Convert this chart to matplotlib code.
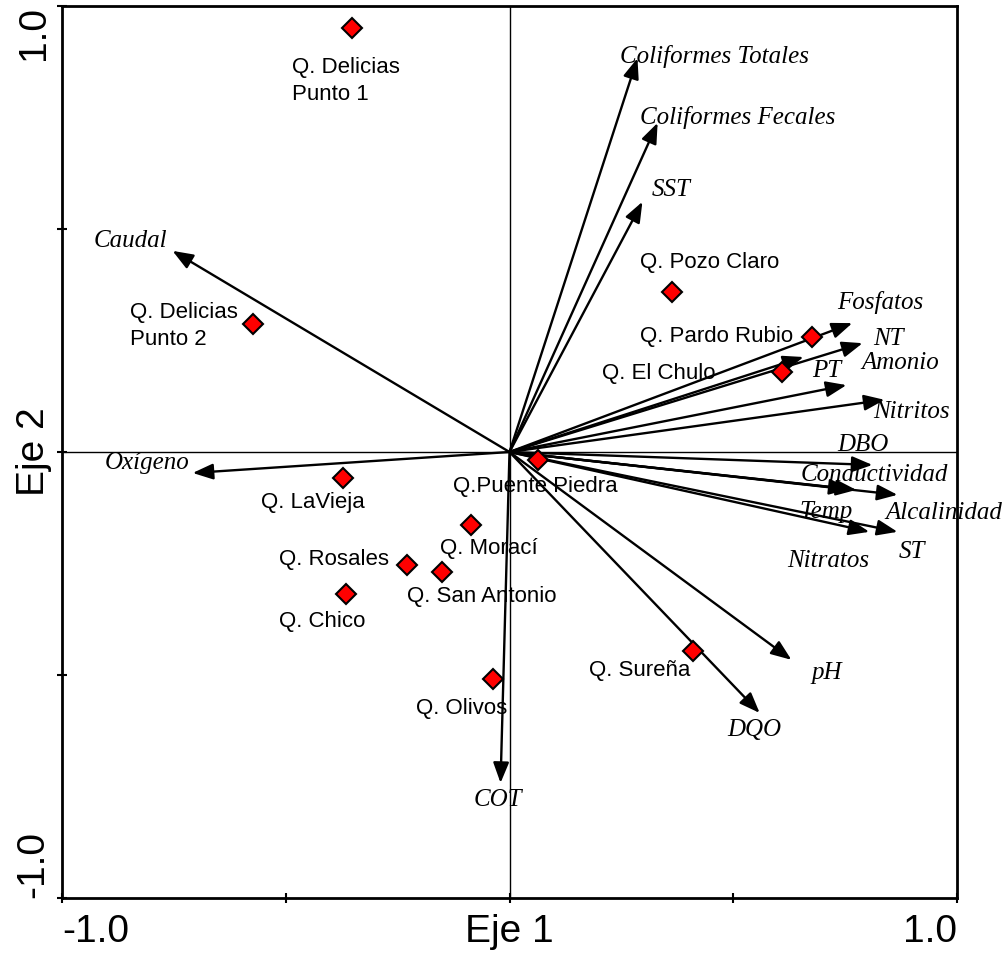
import numpy as np
import matplotlib.pyplot as plt

# Muestras (quebradas) y sus coordenadas en los ejes 1 y 2
muestras = ["Q. Delicias\nPunto 1", "Q. Delicias\nPunto 2", "Q. Pozo Claro", "Q. Pardo Rubio",
            "Q. El Chulo", "Q.Puente Piedra", "Q. LaVieja", "Q. Morací", "Q. Rosales",
            "Q. San Antonio", "Q. Chico", "Q. Sureña", "Q. Olivos"]
eje1_muestras = [-0.353, -0.574, 0.364, 0.677, 0.610, 0.063, -0.371, -0.085, -0.228,
                 -0.150, -0.366, 0.409, -0.036]
eje2_muestras = [0.951, 0.287, 0.359, 0.258, 0.179, -0.018, -0.058, -0.164, -0.253,
                 -0.269, -0.318, -0.446, -0.509]

# Variables (vectores)
variables = ["Coliformes Totales", "Coliformes Fecales", "SST", "Caudal", "Fosfatos", "NT",
             "Amonio", "PT", "Nitritos", "DBO", "Conductividad", "Temp", "Alcalinidad",
             "Nitratos", "ST", "Oxígeno", "pH", "DQO", "COT"]
eje1_vars = [0.286, 0.331, 0.297, -0.753, 0.766, 0.789, 0.657, 0.753, 0.838, 0.811, 0.775,
             0.760, 0.867, 0.804, 0.867, -0.708, 0.630, 0.559, -0.020]
eje2_vars = [0.883, 0.738, 0.561, 0.451, 0.289, 0.244, 0.213, 0.150, 0.117, -0.029, -0.085,
             -0.083, -0.096, -0.179, -0.179, -0.047, -0.466, -0.585, -0.742]

# posiciones de las etiquetas (borde izquierdo, centro vertical)
pos_etq_muestras = [(-0.487, 0.832), (-0.847, 0.283), (0.291, 0.424), (0.291, 0.258),
                    (0.206, 0.175), (-0.127, -0.078), (-0.556, -0.114), (-0.156, -0.217),
                    (-0.514, -0.242), (-0.228, -0.325), (-0.514, -0.379), (0.177, -0.491),
                    (-0.210, -0.576)]
pos_etq_vars = [(0.248, 0.886), (0.291, 0.749), (0.317, 0.587), (-0.930, 0.473),
                (0.733, 0.336), (0.813, 0.253), (0.787, 0.200), (0.677, 0.182),
                (0.813, 0.090), (0.733, 0.016), (0.650, -0.052), (0.648, -0.135),
                (0.840, -0.137), (0.621, -0.244), (0.869, -0.224), (-0.905, -0.025),
                (0.675, -0.496), (0.487, -0.623), (-0.080, -0.780)]

fig = plt.figure(figsize=(10.08, 9.58), dpi=100)
ax = fig.add_axes([62 / 1008, 60 / 958, 895 / 1008, 892 / 958])
ax.set_xlim(-1, 1)
ax.set_ylim(-1, 1)

ax.axhline(0, color="black", lw=1, zorder=1)
ax.axvline(0, color="black", lw=1, zorder=1)

# vectores de las variables
for i, nombre in enumerate(variables):
    ax.annotate("", xy=(eje1_vars[i], eje2_vars[i]), xytext=(0, 0),
                arrowprops=dict(arrowstyle="-|>,head_length=0.62,head_width=0.24",
                                mutation_scale=20, color="black", lw=1.7,
                                shrinkA=0, shrinkB=0), zorder=3)
    ax.text(pos_etq_vars[i][0], pos_etq_vars[i][1], nombre, family="Liberation Serif",
            style="italic", fontsize=18, ha="left", va="center", zorder=2)

# muestras
ax.plot(eje1_muestras, eje2_muestras, "D", color="red", markeredgecolor="black",
        markeredgewidth=1.5, markersize=10.5, linestyle="none", zorder=4)
for i, nombre in enumerate(muestras):
    ax.text(pos_etq_muestras[i][0], pos_etq_muestras[i][1], nombre, family="Liberation Sans",
            fontsize=16, ha="left", va="center", linespacing=1.4, zorder=2)

# ejes
for s in ax.spines.values():
    s.set_linewidth(2)
ticks = [-1, -0.5, 0, 0.5, 1]
ax.set_xticks(ticks)
ax.set_xticklabels(["-1.0", "", "Eje 1", "", "1.0"], family="Liberation Sans", fontsize=28)
ax.set_yticks(ticks)
ax.set_yticklabels(["-1.0", "", "Eje 2", "", "1.0"], family="Liberation Sans", fontsize=28,
                   rotation=90)
ax.tick_params(axis="both", direction="inout", length=7, width=1.5, color="black")
ax.tick_params(axis="x", pad=8)
ax.tick_params(axis="y", pad=4)
xl = ax.get_xticklabels()
xl[0].set_ha("left")
xl[-1].set_ha("right")
yl = ax.get_yticklabels()
for t in yl:
    t.set_ha("right")
    t.set_va("center")
yl[0].set_va("bottom")
yl[-1].set_va("top")

fig.savefig("out.png", dpi=100)
